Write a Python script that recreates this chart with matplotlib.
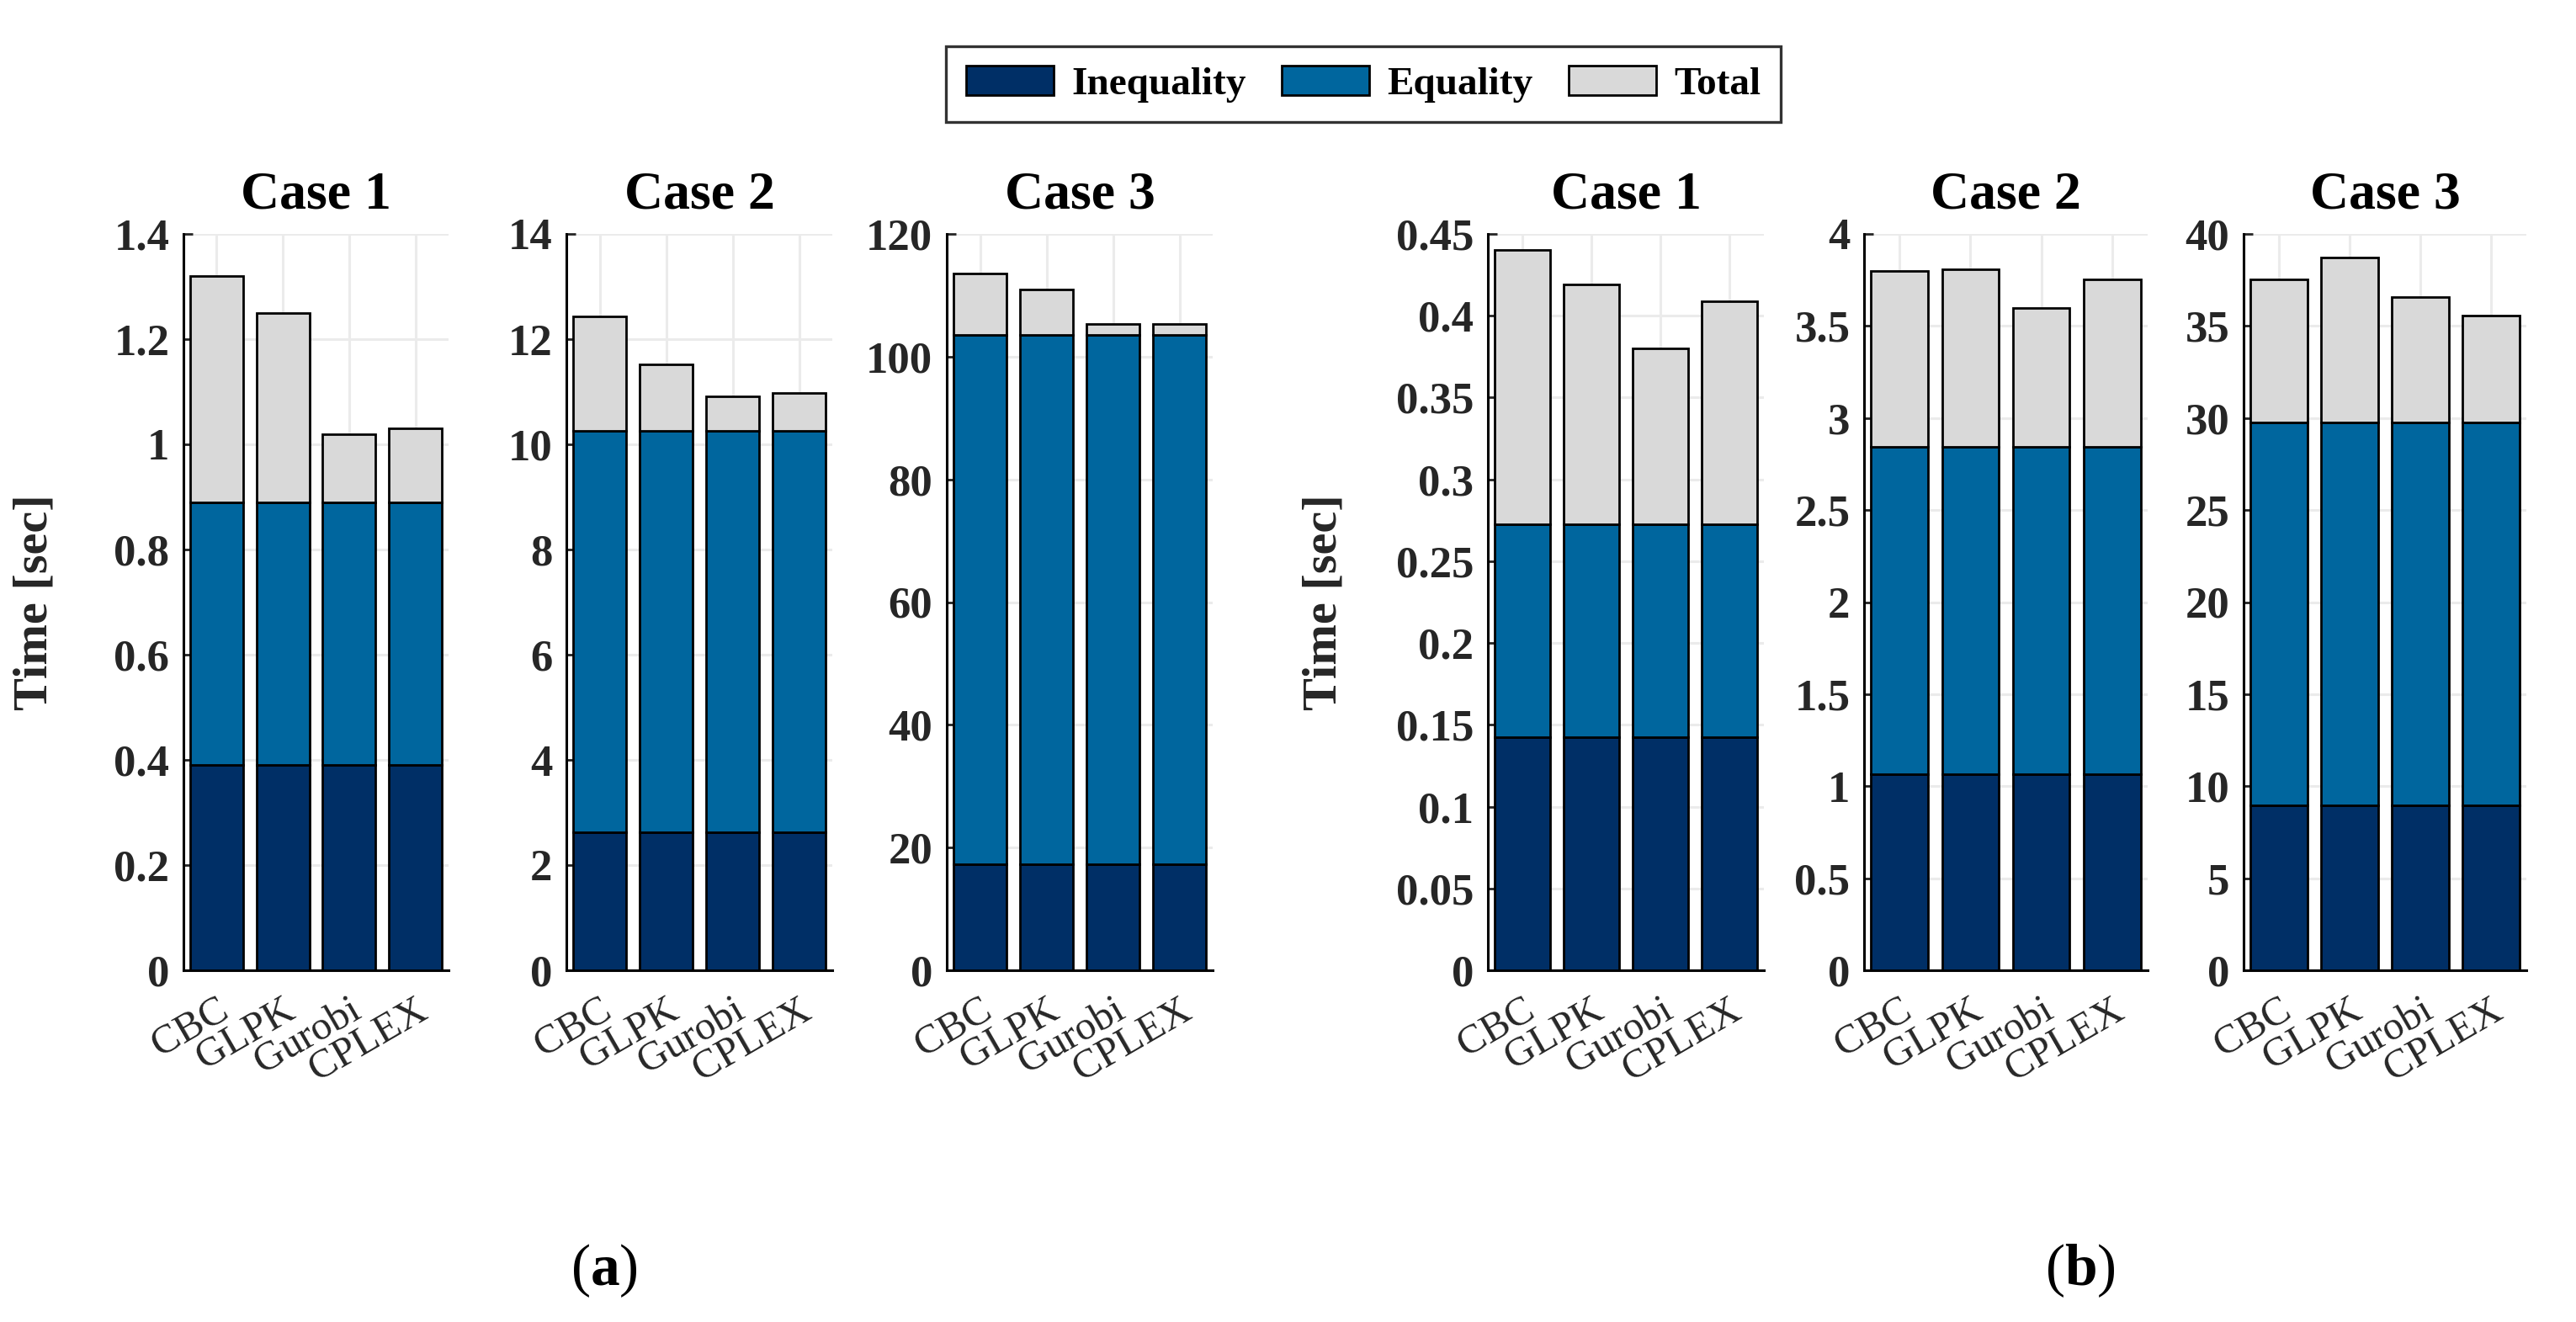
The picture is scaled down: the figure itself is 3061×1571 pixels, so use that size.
import matplotlib
matplotlib.use("Agg")
import matplotlib.pyplot as plt
import numpy as np

plt.rcParams['font.family'] = ['Liberation Serif', 'DejaVu Serif']
plt.rcParams['mathtext.fontset'] = 'custom'
plt.rcParams['mathtext.rm'] = 'Liberation Serif'
plt.rcParams['mathtext.bf'] = 'Liberation Serif:bold'

solvers = ["CBC", "GLPK", "Gurobi", "CPLEX"]
case_titles = ["Case 1", "Case 2", "Case 3"]
series_names = ["Inequality", "Equality", "Total"]

# Panel (a): per case, per solver
a_ineq = [[0.39] * 4, [2.63] * 4, [17.3] * 4]
a_eq = [[0.50] * 4, [7.62] * 4, [86.2] * 4]
a_total = [[1.32, 1.25, 1.02, 1.03],
           [12.43, 11.52, 10.91, 10.97],
           [113.6, 111.0, 105.3, 105.3]]
a_ylim = [1.4, 14, 120]
a_ystep = [0.2, 2, 20]

# Panel (b)
b_ineq = [[0.1427] * 4, [1.066] * 4, [8.94] * 4]
b_eq = [[0.1299] * 4, [1.779] * 4, [20.83] * 4]
b_total = [[0.440, 0.419, 0.380, 0.409],
           [3.80, 3.81, 3.60, 3.755],
           [37.55, 38.7, 36.55, 35.55]]
b_ylim = [0.45, 4, 40]
b_ystep = [0.05, 0.5, 5]

colors = ['#002F66', '#00669E', '#D9D9D9']
grid_c = '#EBEBEB'
txt_c = '#262626'

W, H = 3061, 1571
fig = plt.figure(figsize=(W / 200, H / 200), dpi=200)

bottom = 1 - 1153 / H
height = (1153 - 278) / H
a_lefts = [218, 673, 1125]
a_widths = [315, 316, 316]
b_lefts = [1768, 2215, 2666]
b_widths = [328, 337, 336]


def fmt(v):
    s = ('%.2f' % v).rstrip('0').rstrip('.')
    return s


def draw_panel(lefts, widths, ineq, eq, total, ylims, ysteps, ylabel_x):
    axes = []
    for k in range(3):
        ax = fig.add_axes([lefts[k] / W, bottom, widths[k] / W, height])
        x = np.arange(1, 5)
        i_v = np.array(ineq[k])
        e_v = np.array(eq[k])
        t_v = np.array(total[k])
        bars = []
        bars.append(ax.bar(x, i_v, 0.8, color=colors[0], edgecolor='black', lw=1.0, zorder=3))
        bars.append(ax.bar(x, e_v, 0.8, bottom=i_v, color=colors[1], edgecolor='black', lw=1.0, zorder=3))
        bars.append(ax.bar(x, t_v - i_v - e_v, 0.8, bottom=i_v + e_v, color=colors[2],
                           edgecolor='black', lw=1.0, zorder=3))
        ax.set_xlim(0.5, 4.5)
        ax.set_ylim(0, ylims[k])
        yt = np.arange(0, ylims[k] + ysteps[k] / 2, ysteps[k])
        ax.set_yticks(yt)
        ax.set_yticklabels([fmt(v) for v in yt], fontsize=19, fontweight='bold', color=txt_c)
        ax.set_xticks(x)
        ax.set_xticklabels(solvers, rotation=30, ha='right', rotation_mode='anchor',
                           fontsize=17.5, fontweight='normal', color=txt_c)
        ax.tick_params(axis='y', direction='in', length=4, width=1.0, pad=6, colors=txt_c)
        ax.tick_params(axis='x', length=0, pad=9)
        for lab in ax.get_yticklabels():
            lab.set_color(txt_c)
        for s in ['top', 'right']:
            ax.spines[s].set_visible(False)
        ax.spines['left'].set_linewidth(1.1)
        ax.spines['bottom'].set_linewidth(1.1)
        ax.spines['left'].set_color('black')
        ax.spines['bottom'].set_color('black')
        ax.grid(True, color=grid_c, lw=1.1, zorder=0)
        ax.set_axisbelow(True)
        ax.set_title(case_titles[k], fontsize=23, fontweight='bold', pad=11, color='black')
        if k == 0:
            ax.set_ylabel("Time [sec]", fontsize=21, fontweight='bold', color=txt_c)
            ax.yaxis.set_label_coords(ylabel_x, 0.5)
        axes.append((ax, bars))
    return axes


pa = draw_panel(a_lefts, a_widths, a_ineq, a_eq, a_total, a_ylim, a_ystep, (68 - 218) / 315)
pb = draw_panel(b_lefts, b_widths, b_ineq, b_eq, b_total, b_ylim, b_ystep, (1599 - 1768) / 328)

handles = [pa[0][1][j] for j in range(3)]
leg = fig.legend(handles, series_names, loc='center', bbox_to_anchor=(1620 / W, 1 - 100 / H),
                 ncol=3, frameon=True, fancybox=False, edgecolor='black',
                 handlelength=2.2, handleheight=0.75, handletextpad=0.45, columnspacing=0.9,
                 borderpad=0.5, prop={'weight': 'bold', 'size': 17})
leg.get_frame().set_linewidth(1.2)

fig.text(718 / W, 1 - 1510 / H, r'($\mathbf{a}$)', fontsize=25, ha='center', va='center')
fig.text(2472 / W, 1 - 1510 / H, r'($\mathbf{b}$)', fontsize=25, ha='center', va='center')

fig.savefig('out.png', dpi=200, facecolor='white')
